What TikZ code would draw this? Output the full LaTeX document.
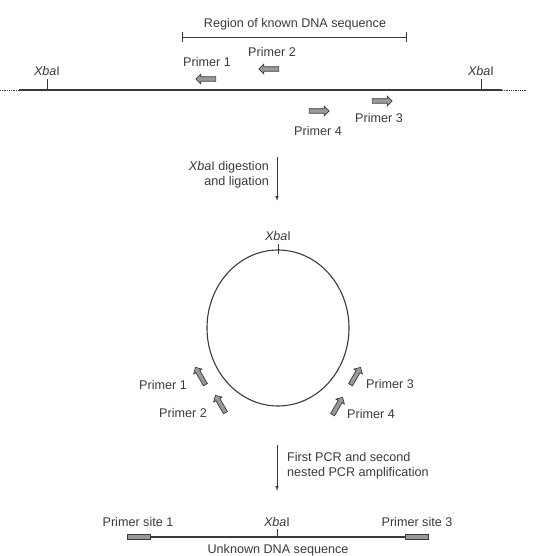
\documentclass[tikz,border=0pt]{standalone}
\usepackage{fontspec}
\setmainfont{Liberation Sans}
\usepackage{tikz}
\usetikzlibrary{positioning, arrows.meta, shapes.arrows, shapes.geometric}

\definecolor{ink}{HTML}{3A3A3A}
\definecolor{primerfill}{HTML}{9A9A9A}
\newcommand{\xba}{\textit{Xba}I}

\begin{document}
\begin{tikzpicture}[
    x=1pt, y=-1pt,
    > = {Latex[length=5pt, width=3.5pt]},
    lbl/.style={text=ink, inner sep=1pt, font=\fontsize{12.6}{15}\selectfont},
    dna/.style={ink, line width=1.1pt},
    primer/.style={single arrow, draw=ink, fill=primerfill, line width=0.7pt,
        minimum height=20pt, minimum width=9pt, inner sep=1.9pt,
        single arrow head extend=2.6pt, single arrow head indent=0pt}
]
    \useasboundingbox (0,0) rectangle (542,556);

    % region of known sequence
    \node[lbl] (region) at (295,24) {Region of known DNA sequence};
    \coordinate (regL) at (182,37);
    \coordinate (regR) at (406,37);
    \draw[ink, line width=0.8pt] (regL) -- (regR);
    \draw[ink, line width=0.8pt] ([yshift=-5]regL) -- ([yshift=5]regL);
    \draw[ink, line width=0.8pt] ([yshift=-5]regR) -- ([yshift=5]regR);

    % linear genomic DNA
    \coordinate (lin0) at (0,90);
    \coordinate (linA) at (19,90);
    \coordinate (linB) at (502,90);
    \coordinate (lin1) at (526,90);
    \draw[ink, line width=0.8pt, densely dotted] (lin0) -- (linA);
    \draw[dna] (linA) -- (linB);
    \draw[ink, line width=0.8pt, densely dotted] (linB) -- (lin1);

    \node[lbl] (xbaL) at (47,71) {\xba};
    \node[lbl] (xbaR) at (481,71) {\xba};
    \draw[ink, line width=0.8pt] (xbaL.south) ++(0,2) -- (xbaL |- linA);
    \draw[ink, line width=0.8pt] (xbaR.south) ++(0,2) -- (xbaR |- linA);

    % primers on the linear DNA
    \node[primer, rotate=180] (p1) at (207,79) {};
    \node[primer, rotate=180] (p2) at (270,69) {};
    \node[primer] (p4) at (318,111) {};
    \node[primer] (p3) at (381,101) {};
    \node[lbl] (p1lab) at (207,62) {Primer 1};
    \node[lbl] (p2lab) at (272,52) {Primer 2};
    \node[lbl] (p4lab) at (318,131) {Primer 4};
    \node[lbl] (p3lab) at (379,118) {Primer 3};

    % digestion and ligation
    \coordinate (dig0) at (277,157);
    \coordinate (dig1) at (277,201);
    \draw[->, ink, line width=0.8pt] (dig0) -- (dig1);
    \node[lbl, align=right, anchor=east] (digest) at (270,175)
        {\xba{} digestion\\and ligation};

    % circularised fragment
    \node[draw=ink, line width=1.1pt, ellipse, minimum width=142pt,
          minimum height=156pt, inner sep=0pt] (circ) at (278,328) {};
    \node[lbl] (xbaC) at (278,236) {\xba};
    \draw[ink, line width=0.8pt] ([yshift=-5]circ.north) -- ([yshift=5]circ.north);

    \node[primer, rotate=120] (c1) at (201,377) {};
    \node[primer, rotate=120] (c2) at (221,405) {};
    \node[primer, rotate=60] (c3) at (355,377) {};
    \node[primer, rotate=60] (c4) at (337,407) {};
    \node[lbl] (c1lab) at (163,385) {Primer 1};
    \node[lbl] (c2lab) at (183,413) {Primer 2};
    \node[lbl] (c3lab) at (390,384) {Primer 3};
    \node[lbl] (c4lab) at (371,414) {Primer 4};

    % PCR
    \coordinate (pcr0) at (277,445);
    \coordinate (pcr1) at (277,491);
    \draw[->, ink, line width=0.8pt] (pcr0) -- (pcr1);
    \node[lbl, align=left, anchor=west] (pcr) at (286,466)
        {First PCR and second\\nested PCR amplification};

    % amplified product
    \node[draw=ink, fill=primerfill, line width=0.6pt, minimum width=23pt,
          minimum height=5pt, inner sep=0pt] (site1) at (139,537) {};
    \node[draw=ink, fill=primerfill, line width=0.6pt, minimum width=23pt,
          minimum height=5pt, inner sep=0pt] (site3) at (417,537) {};
    \draw[dna] (site1.east) -- (site3.west);
    \node[lbl] (s1lab) at (138,522) {Primer site 1};
    \node[lbl] (s3lab) at (417,522) {Primer site 3};
    \node[lbl] (xbaP) at (277,522) {\xba};
    \draw[ink, line width=0.8pt] (xbaP.south) ++(0,1) -- (xbaP |- site1.center);
    \node[lbl] (unknown) at (278,550) {Unknown DNA sequence};
\end{tikzpicture}
\end{document}
